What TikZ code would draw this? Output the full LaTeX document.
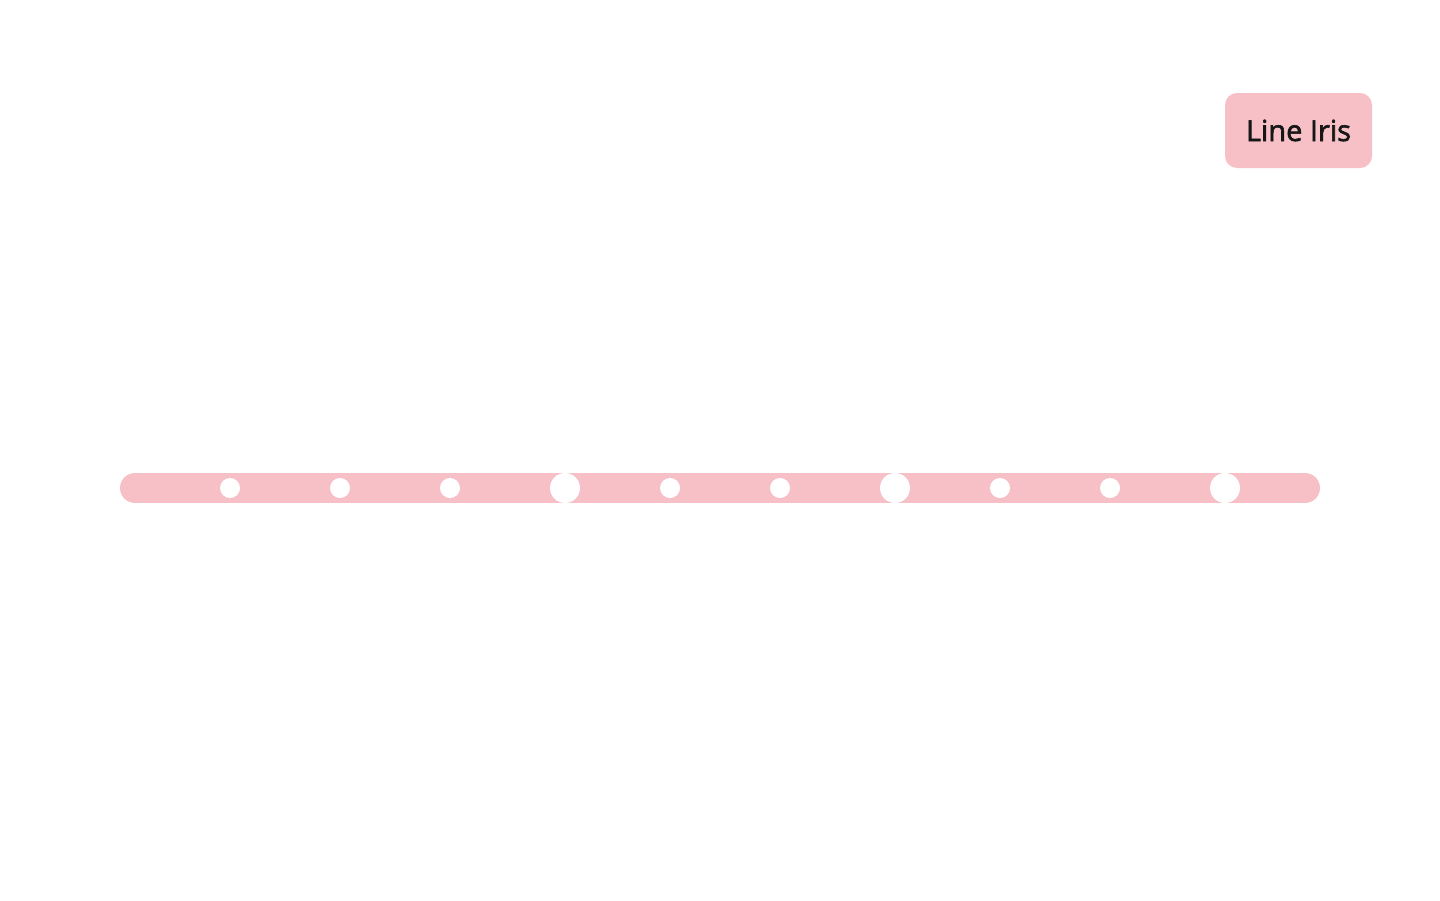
\documentclass[tikz,border=0pt]{standalone}
\usepackage{fontspec}
\setmainfont{Open Sans}
\newfontfamily\badgefont{Open Sans}[BoldFont={Open Sans}, BoldFeatures={FakeBold=2}]
\definecolor{irispink}{HTML}{F7BFC6}
\definecolor{labelink}{HTML}{161616}

\begin{document}
\begin{tikzpicture}[x=1pt, y=-1pt,
	stop/.style={circle, fill=white, inner sep=0pt, minimum size=20pt},
	hub/.style={circle, fill=white, inner sep=0pt, minimum size=30pt},
	linebadge/.style={rectangle, rounded corners=12pt, fill=irispink, text=labelink,
		minimum width=147pt, minimum height=75pt, inner sep=0pt,
		font=\badgefont\bfseries\fontsize{29}{32}\selectfont}]
	\useasboundingbox (0,0) rectangle (1440,900);
	% the line itself
	\coordinate (irisW) at (135,488); \coordinate (irisE) at (1305,488);
	\draw[irispink, line width=30pt, line cap=round] (irisW) -- (irisE);
	% stations
	\foreach \x/\n in {230/s1, 340/s2, 450/s3, 670/s5, 780/s6, 1000/s8, 1110/s9}
		\node[stop] (\n) at (\x,488) {};
	\foreach \x/\n in {565/s4, 895/s7, 1225/s10}
		\node[hub] (\n) at (\x,488) {};
	\node[linebadge] (badge) at (1298.5,130.5) {Line Iris};
\end{tikzpicture}
\end{document}
